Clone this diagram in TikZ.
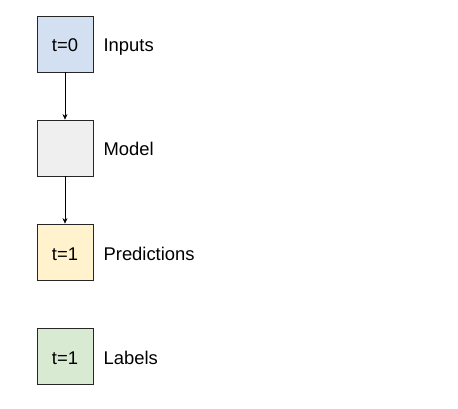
\documentclass[tikz,border=0pt]{standalone}
\usepackage{fontspec}
\setmainfont{Liberation Sans}
\usepackage{tikz}
\usetikzlibrary{arrows.meta, positioning}
\definecolor{inBlue}{RGB}{211,224,242}
\definecolor{modelGray}{RGB}{239,239,239}
\definecolor{predYellow}{RGB}{255,242,204}
\definecolor{labelGreen}{RGB}{217,234,211}
\tikzstyle{arrow} = [-{Stealth[length=5.5pt, width=5pt]}, line width=0.7pt]

\begin{document}
\begin{tikzpicture}[x=1pt, y=-1pt,
  cell/.style={draw=black!85, line width=0.8pt, minimum width=56pt, minimum height=56pt, inner sep=0pt, text height=16pt, text depth=0pt, font=\fontsize{18.4}{20}\selectfont},
  tag/.style={inner sep=0pt, text height=16pt, text depth=0pt, font=\fontsize{18.4}{20}\selectfont}
]
\useasboundingbox (0,0) rectangle (458,409);

% Boxes
\node[cell, fill=inBlue] (inputs) at (65,44) {t=0};
\node[cell, fill=modelGray] (model) at (65,148) {};
\node[cell, fill=predYellow] (preds) at (65,252) {t=1};
\node[cell, fill=labelGreen] (labels) at (65,356) {t=1};

% Names on the right
\node[tag, right=10pt of inputs] (inputsTag) {Inputs};
\node[tag, right=10pt of model] (modelTag) {Model};
\node[tag, right=10pt of preds] (predsTag) {Predictions};
\node[tag, right=10pt of labels] (labelsTag) {Labels};

% Arrows
\draw[arrow] (inputs) -- (model);
\draw[arrow] (model) -- (preds);

\end{tikzpicture}
\end{document}
